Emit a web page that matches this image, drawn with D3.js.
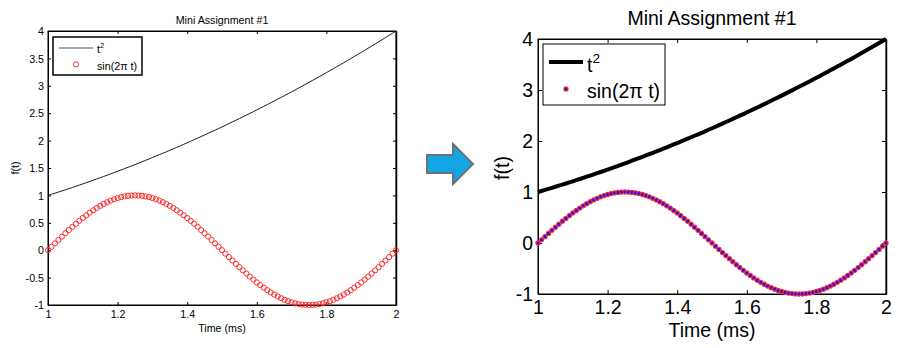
<!DOCTYPE html>
<html>
<head>
<meta charset="utf-8">
<script src="https://cdn.jsdelivr.net/npm/d3@7"></script>
<style>
  html, body { margin: 0; padding: 0; background: #fff; }
  svg { display: block; font-family: "Liberation Sans", Arial, sans-serif; }
</style>
</head>
<body>
<svg id="chart" width="901" height="348"></svg>
<script>
// ---- data ----
const time = [1.00,1.01,1.02,1.03,1.04,1.05,1.06,1.07,1.08,1.09,1.10,1.11,1.12,1.13,1.14,1.15,1.16,1.17,1.18,1.19,
1.20,1.21,1.22,1.23,1.24,1.25,1.26,1.27,1.28,1.29,1.30,1.31,1.32,1.33,1.34,1.35,1.36,1.37,1.38,1.39,
1.40,1.41,1.42,1.43,1.44,1.45,1.46,1.47,1.48,1.49,1.50,1.51,1.52,1.53,1.54,1.55,1.56,1.57,1.58,1.59,
1.60,1.61,1.62,1.63,1.64,1.65,1.66,1.67,1.68,1.69,1.70,1.71,1.72,1.73,1.74,1.75,1.76,1.77,1.78,1.79,
1.80,1.81,1.82,1.83,1.84,1.85,1.86,1.87,1.88,1.89,1.90,1.91,1.92,1.93,1.94,1.95,1.96,1.97,1.98,1.99,2.00];

const tSquared = [1.0000,1.0201,1.0404,1.0609,1.0816,1.1025,1.1236,1.1449,1.1664,1.1881,1.2100,1.2321,1.2544,1.2769,1.2996,1.3225,1.3456,1.3689,1.3924,1.4161,
1.4400,1.4641,1.4884,1.5129,1.5376,1.5625,1.5876,1.6129,1.6384,1.6641,1.6900,1.7161,1.7424,1.7689,1.7956,1.8225,1.8496,1.8769,1.9044,1.9321,
1.9600,1.9881,2.0164,2.0449,2.0736,2.1025,2.1316,2.1609,2.1904,2.2201,2.2500,2.2801,2.3104,2.3409,2.3716,2.4025,2.4336,2.4649,2.4964,2.5281,
2.5600,2.5921,2.6244,2.6569,2.6896,2.7225,2.7556,2.7889,2.8224,2.8561,2.8900,2.9241,2.9584,2.9929,3.0276,3.0625,3.0976,3.1329,3.1684,3.2041,
3.2400,3.2761,3.3124,3.3489,3.3856,3.4225,3.4596,3.4969,3.5344,3.5721,3.6100,3.6481,3.6864,3.7249,3.7636,3.8025,3.8416,3.8809,3.9204,3.9601,4.0000];

const sine = [0.000,0.063,0.125,0.187,0.249,0.309,0.368,0.426,0.482,0.536,0.588,0.637,0.685,0.729,0.771,0.809,0.844,0.876,0.905,0.930,
0.951,0.969,0.982,0.992,0.998,1.000,0.998,0.992,0.982,0.969,0.951,0.930,0.905,0.876,0.844,0.809,0.771,0.729,0.685,0.637,
0.588,0.536,0.482,0.426,0.368,0.309,0.249,0.187,0.125,0.063,0.000,-0.063,-0.125,-0.187,-0.249,-0.309,-0.368,-0.426,-0.482,-0.536,
-0.588,-0.637,-0.685,-0.729,-0.771,-0.809,-0.844,-0.876,-0.905,-0.930,-0.951,-0.969,-0.982,-0.992,-0.998,-1.000,-0.998,-0.992,-0.982,-0.969,
-0.951,-0.930,-0.905,-0.876,-0.844,-0.809,-0.771,-0.729,-0.685,-0.637,-0.588,-0.536,-0.482,-0.426,-0.368,-0.309,-0.249,-0.187,-0.125,-0.063,0.000];

const xTickValues = [1, 1.2, 1.4, 1.6, 1.8, 2];
const xTickLabels = ["1", "1.2", "1.4", "1.6", "1.8", "2"];
const yTicksLeft = [-1, -0.5, 0, 0.5, 1, 1.5, 2, 2.5, 3, 3.5, 4];
const yTickLabelsLeft = ["-1", "-0.5", "0", "0.5", "1", "1.5", "2", "2.5", "3", "3.5", "4"];
const yTicksRight = [-1, 0, 1, 2, 3, 4];
const yTickLabelsRight = ["-1", "0", "1", "2", "3", "4"];
const titleText = "Mini Assignment #1";
const xLabelText = "Time (ms)";
const yLabelText = "f(t)";
const legendLine = "t";
const legendSine = "sin(2\u03C0 t)";

const svg = d3.select("#chart");

function drawPanel(cfg) {
  const x = d3.scaleLinear().domain([1, 2]).range([cfg.x0, cfg.x1]);
  const y = d3.scaleLinear().domain([-1, 4]).range([cfg.y1, cfg.y0]);
  const g = svg.append("g");

  // axes box
  g.append("rect").attr("x", cfg.x0).attr("y", cfg.y0)
    .attr("width", cfg.x1 - cfg.x0).attr("height", cfg.y1 - cfg.y0)
    .attr("fill", "#fff").attr("stroke", "#000").attr("stroke-width", 1);

  // axes (ticks inward, all four sides)
  const tl = cfg.tickLen;
  const axB = d3.axisBottom(x).tickValues(xTickValues).tickSizeInner(-tl).tickSizeOuter(0)
    .tickFormat((d, i) => xTickLabels[i]);
  const gb = g.append("g").attr("transform", `translate(0,${cfg.y1})`).call(axB);
  const axT = d3.axisTop(x).tickValues(xTickValues).tickSizeInner(-tl).tickSizeOuter(0).tickFormat("");
  const gt = g.append("g").attr("transform", `translate(0,${cfg.y0})`).call(axT);
  const axL = d3.axisLeft(y).tickValues(cfg.yTicks).tickSizeInner(-tl).tickSizeOuter(0)
    .tickFormat((d, i) => cfg.yLabels[i]);
  const gl = g.append("g").attr("transform", `translate(${cfg.x0},0)`).call(axL);
  const axR = d3.axisRight(y).tickValues(cfg.yTicks).tickSizeInner(-tl).tickSizeOuter(0).tickFormat("");
  const gr = g.append("g").attr("transform", `translate(${cfg.x1},0)`).call(axR);
  [gb, gt, gl, gr].forEach(a => {
    a.select(".domain").attr("stroke", "#000").attr("stroke-width", 1);
    a.selectAll(".tick line").attr("stroke", "#000").attr("stroke-width", 1);
    a.selectAll("text").attr("fill", "#000")
      .style("font-family", '"Liberation Sans", Arial, sans-serif')
      .attr("font-size", cfg.font);
  });
  gb.selectAll(".tick text").attr("dy", null).attr("y", cfg.xLabOff).attr("dominant-baseline", "auto");
  gl.selectAll(".tick text").attr("x", -cfg.yLabOff).attr("dy", "0.35em");
  gr.select(".domain").attr("stroke-width", cfg.rightEdge);

  // t^2 line
  const line = d3.line().x((d, i) => x(time[i])).y(d => y(d));
  g.append("path").datum(tSquared).attr("d", line)
    .attr("fill", "none").attr("stroke", cfg.lineColor).attr("stroke-width", cfg.lineWidth)
    .attr("stroke-linejoin", "round");

  // sine markers
  g.append("g").selectAll("circle").data(sine).join("circle")
    .attr("cx", (d, i) => x(time[i])).attr("cy", d => y(d))
    .attr("r", cfg.markerR).attr("fill", cfg.markerFill)
    .attr("stroke", cfg.markerStroke).attr("stroke-width", cfg.markerSW);

  // title and labels
  const cx = (cfg.x0 + cfg.x1) / 2;
  g.append("text").attr("x", cx).attr("y", cfg.titleY).attr("text-anchor", "middle")
    .attr("font-size", cfg.titleFont).attr("fill", "#000").text(titleText);
  g.append("text").attr("x", cx).attr("y", cfg.xTitleY).attr("text-anchor", "middle")
    .attr("font-size", cfg.font).attr("fill", "#000").text(xLabelText);
  g.append("text").attr("transform", `translate(${cfg.yTitleX},${cfg.yTitleY}) rotate(-90)`)
    .attr("text-anchor", "middle").attr("dy", "0.35em")
    .attr("font-size", cfg.font).attr("fill", "#000").text(yLabelText);

  // legend
  const L = cfg.legend;
  g.append("rect").attr("x", L.x).attr("y", L.y).attr("width", L.w).attr("height", L.h)
    .attr("fill", "#fff").attr("stroke", "#000").attr("stroke-width", L.sw);
  g.append("line").attr("x1", L.lx1).attr("x2", L.lx2).attr("y1", L.ly).attr("y2", L.ly)
    .attr("stroke", cfg.legendLineColor).attr("stroke-width", cfg.lineWidth);
  const t1 = g.append("text").attr("x", L.tx).attr("y", L.t1y)
    .attr("font-size", cfg.font).attr("fill", "#000");
  t1.append("tspan").text(legendLine);
  t1.append("tspan").attr("dy", -cfg.font * 0.45).attr("font-size", cfg.font * 0.7).text("2");
  g.append("circle").attr("cx", L.mx).attr("cy", L.my).attr("r", cfg.markerR)
    .attr("fill", cfg.markerFill).attr("stroke", cfg.markerStroke).attr("stroke-width", cfg.markerSW);
  g.append("text").attr("x", L.tx).attr("y", L.t2y)
    .attr("font-size", cfg.font).attr("fill", "#000").text(legendSine);
}

// left panel (original)
drawPanel({
  x0: 48, x1: 396, y0: 31, y1: 305, tickLen: 3,
  yTicks: yTicksLeft, yLabels: yTickLabelsLeft,
  font: 10.7, titleFont: 10.7, xLabOff: 13, yLabOff: 4, rightEdge: 1.5,
  lineColor: "#1a1a1a", legendLineColor: "#555", lineWidth: 1,
  markerR: 2.6, markerFill: "none", markerStroke: "#ff1a1a", markerSW: 0.9,
  titleY: 24, xTitleY: 332, yTitleX: 15, yTitleY: 168,
  legend: { x: 53, y: 37, w: 89, h: 38, sw: 1.5, lx1: 59, lx2: 93, ly: 48,
            tx: 97, t1y: 53, t2y: 69.5, mx: 76, my: 64.3 }
});

// right panel (restyled)
drawPanel({
  x0: 538, x1: 886, y0: 39, y1: 294, tickLen: 4,
  yTicks: yTicksRight, yLabels: yTickLabelsRight,
  font: 19.5, titleFont: 19.5, xLabOff: 20, yLabOff: 5, rightEdge: 1.5,
  lineColor: "#000", legendLineColor: "#000", lineWidth: 4,
  markerR: 2.1, markerFill: "#1414ff", markerStroke: "#ff2a2a", markerSW: 1.1,
  titleY: 25, xTitleY: 337, yTitleX: 502, yTitleY: 168,
  legend: { x: 543, y: 44, w: 122, h: 61, sw: 1, lx1: 549, lx2: 583, ly: 62,
            tx: 587, t1y: 72, t2y: 97.5, mx: 566, my: 89 }
});

// arrow between panels
const arrowPts = [[427,155],[453,155],[453,144],[473,164],[453,184],[453,173],[427,173]];
svg.append("polygon")
  .attr("points", arrowPts.map(p => p.join(",")).join(" "))
  .attr("fill", "#13a6e6").attr("stroke", "#6d7371").attr("stroke-width", 2)
  .attr("stroke-linejoin", "miter");
</script>
</body>
</html>
